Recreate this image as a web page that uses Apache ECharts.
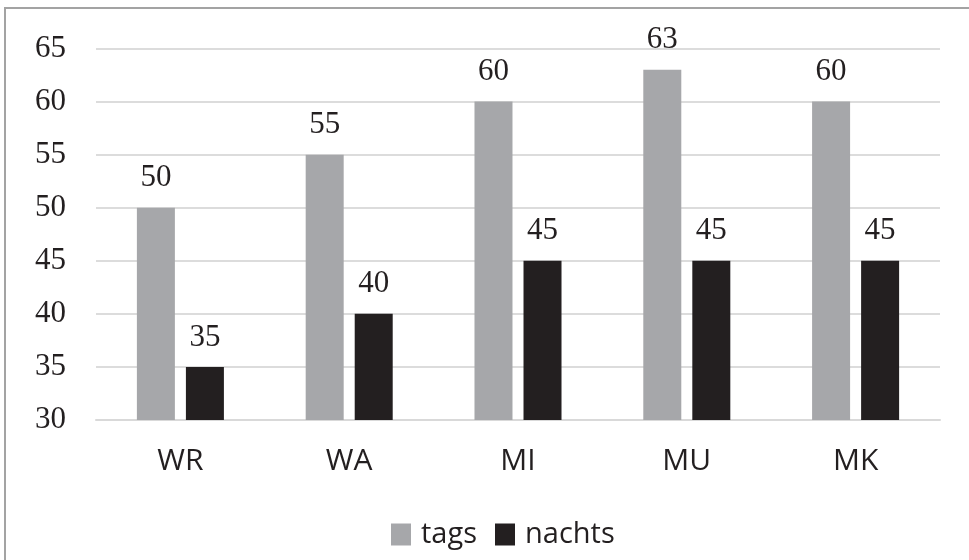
<!DOCTYPE html>
<html>
<head>
<meta charset="utf-8">
<script src="https://cdn.jsdelivr.net/npm/echarts@6/dist/echarts.min.js"></script>
<style>
html,body{margin:0;padding:0;background:#fff;}
#c{width:969px;height:560px;}
</style>
</head>
<body>
<div id="c"></div>
<script>
const categories = ['WR', 'WA', 'MI', 'MU', 'MK'];
const tags = [50, 55, 60, 63, 60];
const nachts = [35, 40, 45, 45, 45];
const seriesNames = ['tags', 'nachts'];
const yMin = 30, yMax = 65, yStep = 5;

const chart = echarts.init(document.getElementById('c'), null, {renderer: 'canvas'});
const numFont = 'Liberation Serif';
const sansFont = 'Open Sans';
chart.setOption({
  animation: false,
  backgroundColor: '#ffffff',
  graphic: [{
    type: 'rect',
    shape: {x: 5, y: 8, width: 1100, height: 700},
    style: {fill: 'none', stroke: '#a3a3a3', lineWidth: 2},
    silent: true
  }],
  grid: {left: 96, right: 29, top: 48.5, bottom: 140, containLabel: false},
  legend: {
    data: seriesNames,
    top: 515,
    left: 386,
    icon: 'rect',
    itemWidth: 20,
    itemHeight: 22,
    itemGap: 18,
    textStyle: {fontFamily: sansFont, fontSize: 29, color: '#231f20', padding: [0, 0, 0, 5]}
  },
  xAxis: {
    type: 'category',
    data: categories,
    axisLine: {lineStyle: {color: '#d9d9d9', width: 2}},
    axisTick: {show: false},
    axisLabel: {fontFamily: sansFont, fontSize: 30, color: '#231f20', margin: 26}
  },
  yAxis: {
    type: 'value',
    min: yMin, max: yMax, interval: yStep,
    axisLine: {show: false},
    axisTick: {show: false},
    splitLine: {lineStyle: {color: '#dcdcdc', width: 2}},
    axisLabel: {fontFamily: numFont, fontSize: 31, color: '#231f20', margin: 30}
  },
  series: [
    {
      name: seriesNames[0], type: 'bar', data: tags,
      barWidth: 38, barGap: '29%',
      itemStyle: {color: '#a6a7aa'},
      label: {show: true, position: 'top', distance: 14, fontFamily: numFont, fontSize: 31, color: '#231f20'}
    },
    {
      name: seriesNames[1], type: 'bar', data: nachts,
      barWidth: 38, barGap: '29%',
      itemStyle: {color: '#231f20'},
      label: {show: true, position: 'top', distance: 14, fontFamily: numFont, fontSize: 31, color: '#231f20'}
    }
  ]
});
</script>
</body>
</html>
